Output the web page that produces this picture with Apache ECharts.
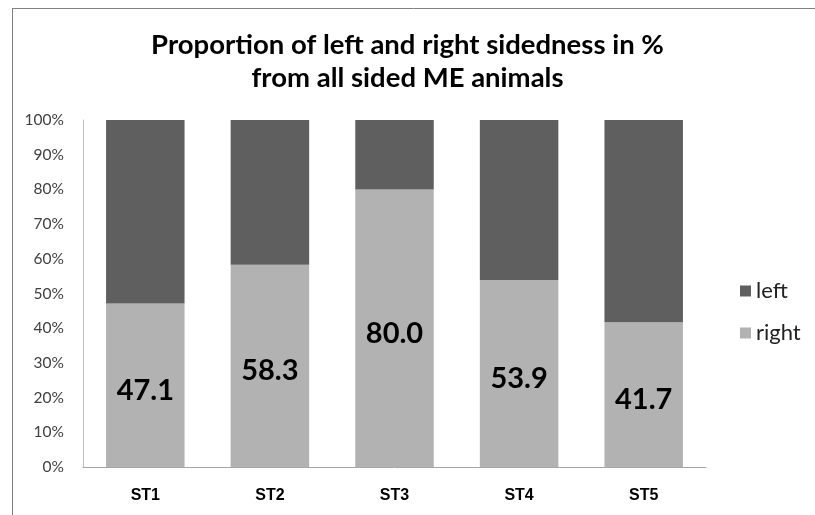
<!DOCTYPE html>
<html>
<head>
<meta charset="utf-8">
<script src="https://cdn.jsdelivr.net/npm/echarts@6/dist/echarts.min.js"></script>
<style>
html,body{margin:0;padding:0;background:#fff;}
#c{width:815px;height:515px;}
</style>
</head>
<body>
<div id="c"></div>
<script>
const categories = ['ST1', 'ST2', 'ST3', 'ST4', 'ST5'];
const rightValues = [47.1, 58.3, 80.0, 53.9, 41.7];
const leftValues = [52.9, 41.7, 20.0, 46.1, 58.3];
const yTicks = [0, 10, 20, 30, 40, 50, 60, 70, 80, 90, 100];

const chart = echarts.init(document.getElementById('c'), null, {renderer: 'canvas'});
chart.setOption({
  backgroundColor: '#ffffff',
  animation: false,
  title: {
    text: 'Proportion of left and right sidedness in %\nfrom all sided ME animals',
    left: 'center',
    top: 24,
    textStyle: {
      fontFamily: 'Lato',
      fontWeight: 'bold',
      fontSize: 27.5,
      lineHeight: 33,
      color: '#000'
    }
  },
  graphic: [
    {type: 'line', shape: {x1: 12, y1: 8.5, x2: 815, y2: 8.5}, style: {stroke: '#808080', lineWidth: 1}},
    {type: 'line', shape: {x1: 12.5, y1: 8, x2: 12.5, y2: 515}, style: {stroke: '#808080', lineWidth: 1}}
  ],
  legend: {
    data: ['left', 'right'],
    orient: 'vertical',
    left: 735,
    top: 275,
    itemWidth: 11,
    itemHeight: 11,
    itemGap: 20,
    icon: 'rect',
    textStyle: {fontFamily: 'Lato', fontSize: 22, color: '#222', padding: [0, 0, 0, 0]}
  },
  grid: {left: 83, right: 109, top: 120, bottom: 48},
  xAxis: {
    type: 'category',
    data: categories,
    axisLine: {lineStyle: {color: '#a6a6a6'}},
    axisTick: {show: false},
    axisLabel: {
      margin: 21,
      fontFamily: 'Liberation Sans',
      fontWeight: 'bold',
      fontSize: 16,
      color: '#000'
    }
  },
  yAxis: {
    type: 'value',
    min: 0,
    max: 100,
    interval: 10,
    axisLine: {show: true, lineStyle: {color: '#bfbfbf'}},
    axisTick: {show: false},
    splitLine: {show: false},
    axisLabel: {
      margin: 19,
      fontFamily: 'Lato',
      fontSize: 15.5,
      color: '#404040',
      formatter: function (v) { return yTicks.indexOf(v) >= 0 ? v + '%' : ''; }
    }
  },
  series: [
    {
      name: 'right',
      type: 'bar',
      stack: 'all',
      data: rightValues,
      barWidth: '63%',
      itemStyle: {color: '#b2b2b2'},
      label: {
        show: true,
        position: 'inside',
        offset: [0, 5],
        fontFamily: 'Lato',
        fontWeight: 'bold',
        fontSize: 29,
        color: '#000',
        formatter: function (p) { return p.value.toFixed(1); }
      }
    },
    {
      name: 'left',
      type: 'bar',
      stack: 'all',
      data: leftValues,
      barWidth: '63%',
      itemStyle: {color: '#5f5f5f'}
    }
  ]
});
</script>
</body>
</html>
